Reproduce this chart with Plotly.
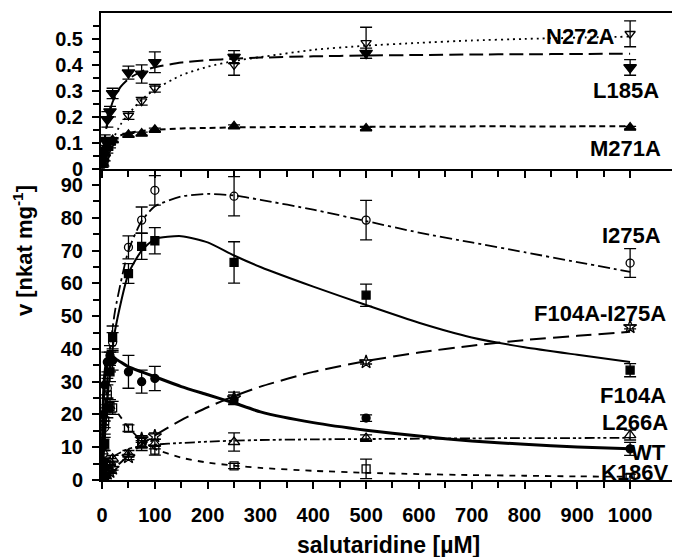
import plotly.graph_objects as go

# ---------------- data: top panel (v in nkat/mg) ----------------
x_top = [1, 2.5, 5, 10, 15, 20, 50, 75, 100, 250, 500, 1000]
n272a_v = [0.01, 0.02, 0.04, 0.07, 0.09, 0.11, 0.205, 0.26, 0.31, 0.40, 0.485, 0.52]
n272a_e = [0.005, 0.01, 0.01, 0.01, 0.01, 0.01, 0.015, 0.015, 0.015, 0.04, 0.06, 0.05]
l185a_v = [0.03, 0.07, 0.11, 0.19, 0.22, 0.29, 0.37, 0.365, 0.41, 0.43, 0.445, 0.39]
l185a_e = [0.01, 0.01, 0.02, 0.03, 0.02, 0.02, 0.025, 0.035, 0.04, 0.025, 0.02, 0.03]
m271a_v = [0.02, 0.04, 0.06, 0.08, 0.10, 0.11, 0.13, 0.135, 0.15, 0.163, 0.155, 0.158]
m271a_e = [0.005, 0.005, 0.005, 0.005, 0.005, 0.005, 0.006, 0.006, 0.006, 0.006, 0.005, 0.005]

# fitted curves (top)
xc_top = [0, 2.5, 5, 10, 20, 35, 50, 75, 100, 150, 200, 250, 300, 400, 500, 600, 700, 800, 900, 1000]
n272a_fit = [0, 0.017, 0.032, 0.061, 0.11, 0.17, 0.21, 0.266, 0.305, 0.36, 0.393, 0.415, 0.43, 0.458, 0.474, 0.485, 0.494, 0.5, 0.505, 0.509]
l185a_fit = [0, 0.064, 0.113, 0.18, 0.257, 0.315, 0.346, 0.375, 0.391, 0.409, 0.418, 0.424, 0.428, 0.433, 0.436, 0.438, 0.44, 0.441, 0.442, 0.443]
m271a_fit = [0, 0.033, 0.055, 0.083, 0.11, 0.128, 0.1375, 0.145, 0.15, 0.155, 0.157, 0.159, 0.16, 0.161, 0.162, 0.162, 0.163, 0.163, 0.163, 0.164]

# ---------------- data: bottom panel ----------------
x_bot = [1, 2.5, 5, 10, 15, 20, 50, 75, 100, 250, 500, 1000]
i275a_v = [3, 8, 16, 28, 36, 42, 71, 79.3, 88.4, 86.6, 79.3, 66.2]
i275a_e = [1, 1, 2, 3, 3, 3, 3.5, 4, 4.5, 6, 6, 4.4]
f104a_v = [2, 5, 11, 22, 33, 43.5, 63, 71.3, 73, 66.4, 56.4, 33.5]
f104a_e = [1, 1, 2, 3, 3, 3.5, 3, 4, 4, 6.3, 3.4, 2]
dbl_v = [0.2, 0.5, 1, 2, 2.5, 3.5, 7, 12.5, 13.4, 25, 36, 46.7]
dbl_e = [0.3, 0.3, 0.5, 0.5, 0.5, 0.5, 0.8, 1, 1, 1.8, 0.6, 0.6]
wt_v = [10, 20, 29, 36, 38, 36.5, 33, 30, 31, 24.5, 18.9, 9.5]
wt_e = [2, 2, 3, 3, 3, 3, 5, 3.5, 3.7, 1.5, 1, 2]
l266a_v = [1, 2, 3, 4.5, 5.5, 6.5, 8, 10.5, 11, 11.6, 12.8, 13.7]
l266a_e = [0.5, 0.5, 1, 1, 1, 1, 1, 1.5, 1.5, 2.8, 1, 1.5]
k186v_v = [5, 11, 18, 26, 22.5, 22, 15.8, 11.5, 9.1, 4.3, 3.4, 0.8]
k186v_e = [1, 1.5, 2, 3, 2, 2, 1, 1.5, 1.5, 0.8, 3, 1]

xc_bot = [0, 2, 5, 10, 15, 25, 50, 75, 100, 150, 200, 250, 300, 400, 500, 600, 700, 800, 900, 1000]
i275a_fit = [0, 8, 18, 31, 40, 52, 70, 79, 83.5, 86.5, 87.3, 86.8, 85.5, 82.5, 79, 75.5, 72.5, 69.5, 66.5, 63.5]
f104a_fit = [0, 5, 12, 24, 33, 46, 63, 70, 73.5, 74.4, 72.5, 68.5, 65, 59, 53.4, 48, 43.5, 40.5, 38.2, 36]
dbl_fit = [0, 0.3, 0.8, 1.5, 2.3, 3.8, 7.5, 10.8, 13.6, 18.3, 22.2, 25.6, 28.5, 33, 36.3, 38.9, 41, 42.7, 44, 45.2]
wt_fit = [0, 22, 32, 37, 37.5, 37, 34.5, 33, 31.5, 28.5, 26, 23.5, 20.8, 17.5, 15.2, 13.4, 11.9, 10.9, 10.1, 9.5]
l266a_fit = [0, 0.6, 2.5, 4.5, 5.8, 7.5, 9.5, 10.3, 10.8, 11.3, 11.7, 12, 12.2, 12.4, 12.5, 12.6, 12.7, 12.8, 12.8, 12.9]
k186v_fit = [0, 15, 22, 24, 23.5, 21.5, 16, 12, 9.5, 6.8, 5.3, 4.4, 3.7, 2.8, 2.2, 1.8, 1.5, 1.3, 1.1, 1.0]

x_ticks = [0, 100, 200, 300, 400, 500, 600, 700, 800, 900, 1000]
x_minor = [50, 150, 250, 350, 450, 550, 650, 750, 850, 950]
top_ticks = [0, 0.1, 0.2, 0.3, 0.4, 0.5]
top_minor = [0.05, 0.15, 0.25, 0.35, 0.45, 0.55]
bot_ticks = [0, 10, 20, 30, 40, 50, 60, 70, 80, 90]
bot_minor = [5, 15, 25, 35, 45, 55, 65, 75, 85]

FONT = "Liberation Sans, Arial, sans-serif"

fig = go.Figure()


def add_series(xp, yp, ep, xc, yc, symbol, dash, lw, yaxis, xaxis, msize=9):
    fig.add_trace(go.Scatter(x=xc, y=yc, mode="lines", line=dict(color="black", width=lw, dash=dash, shape="spline", smoothing=0.6),
                             xaxis=xaxis, yaxis=yaxis, showlegend=False, hoverinfo="skip"))
    fig.add_trace(go.Scatter(x=xp, y=yp, mode="markers",
                             marker=dict(symbol=symbol, size=msize, color="black", line=dict(color="black", width=1.3)),
                             error_y=dict(type="data", array=ep, color="black", thickness=1.3, width=6),
                             xaxis=xaxis, yaxis=yaxis, showlegend=False))


# top panel
add_series(x_top, n272a_v, n272a_e, xc_top, n272a_fit, "triangle-down-open", "2px,4px", 1.8, "y2", "x2")
add_series(x_top, l185a_v, l185a_e, xc_top, l185a_fit, "triangle-down", "14px,6px", 2, "y2", "x2", 11)
add_series(x_top, m271a_v, m271a_e, xc_top, m271a_fit, "triangle-up", "6px,4px", 2, "y2", "x2", 10)

# bottom panel
add_series(x_bot, i275a_v, i275a_e, xc_bot, i275a_fit, "circle-open", "12px,4px,3px,4px", 1.8, "y", "x", 8)
add_series(x_bot, f104a_v, f104a_e, xc_bot, f104a_fit, "square", "solid", 2, "y", "x", 8)
add_series(x_bot, dbl_v, dbl_e, xc_bot, dbl_fit, "star-open", "16px,7px", 2, "y", "x", 10)
add_series(x_bot, wt_v, wt_e, xc_bot, wt_fit, "circle", "solid", 3, "y", "x", 8)
add_series(x_bot, l266a_v, l266a_e, xc_bot, l266a_fit, "triangle-up-open", "10px,3px,3px,3px,3px,3px", 1.8, "y", "x", 10)
add_series(x_bot, k186v_v, k186v_e, xc_bot, k186v_fit, "square-open", "6px,6px", 1.8, "y", "x", 8)

labels_top = [("N272A", 975, 0.51), ("L185A", 1058, 0.30), ("M271A", 1062, 0.077)]
labels_bot = [("I275A", 1062, 74.7), ("F104A-I275A", 1072, 50.9), ("F104A", 1072, 25.9),
              ("L266A", 1075, 17.4), ("WT", 1072, 8.5), ("K186V", 1077, 2.4)]
for t, xx, yy in labels_top:
    fig.add_annotation(x=xx, y=yy, xref="x2", yref="y2", text="<b>%s</b>" % t, showarrow=False,
                       xanchor="right", yanchor="middle", font=dict(family=FONT, size=22, color="black"))
for t, xx, yy in labels_bot:
    fig.add_annotation(x=xx, y=yy, xref="x", yref="y", text="<b>%s</b>" % t, showarrow=False,
                       xanchor="right", yanchor="middle", font=dict(family=FONT, size=22, color="black"))

fig.add_annotation(x=-0.137, y=0.491, xref="paper", yref="paper", text="<b>v [nkat mg<sup>-1</sup>]</b>",
                   showarrow=False, textangle=-90, xanchor="center", yanchor="middle",
                   font=dict(family=FONT, size=22, color="black"))
fig.add_annotation(x=0.5, y=-0.139, xref="paper", yref="paper", text="<b>salutaridine [µM]</b>",
                   showarrow=False, xanchor="center", yanchor="middle",
                   font=dict(family=FONT, size=23, color="black"))

tickfont = dict(family=FONT, size=20, color="black")
axis_common = dict(showgrid=False, zeroline=False, showline=True, linecolor="black", linewidth=2,
                   ticks="outside", ticklen=7, tickwidth=1.5, tickcolor="black")
split = (480 - 168) / 468

# page body has an 8px margin: figure is 672x549 placed at (8, 8)
fig.update_layout(
    width=672, height=549, margin=dict(l=93, r=3, t=4, b=77),
    paper_bgcolor="white", plot_bgcolor="white", showlegend=False,
    font=dict(family=FONT, color="black"),
    xaxis=dict(domain=[0, 1], range=[-2, 1085], anchor="y", tickmode="array", tickvals=x_ticks,
               ticktext=["<b>%d</b>" % v for v in x_ticks], tickfont=tickfont, ticklabelstandoff=9,
               minor=dict(tickmode="array", tickvals=x_minor, ticklen=6, tickwidth=1.5, tickcolor="black", ticks="outside"),
               **axis_common),
    yaxis=dict(domain=[0, split], range=[0, 95], anchor="x", tickmode="array", tickvals=bot_ticks,
               ticktext=["<b>%d</b>" % v for v in bot_ticks], tickfont=tickfont, mirror=True, ticklabelstandoff=5,
               minor=dict(tickmode="array", tickvals=bot_minor, ticklen=6, tickwidth=1.5, tickcolor="black", ticks="outside"),
               **axis_common),
    xaxis2=dict(domain=[0, 1], range=[-2, 1085], anchor="y2", matches="x", tickmode="array", tickvals=x_ticks,
                showticklabels=False, mirror=True,
                minor=dict(tickmode="array", tickvals=x_minor, ticklen=6, tickwidth=1.5, tickcolor="black", ticks="outside"),
                **axis_common),
    yaxis2=dict(domain=[split, 1], range=[0, 0.6], anchor="x2", tickmode="array", tickvals=top_ticks,
                ticktext=["<b>%s</b>" % ("0" if v == 0 else ("%.1f" % v)) for v in top_ticks], tickfont=tickfont,
                mirror=True, ticklabelstandoff=5,
                minor=dict(tickmode="array", tickvals=top_minor, ticklen=6, tickwidth=1.5, tickcolor="black", ticks="outside"),
                **axis_common),
)

fig.write_html("out.html")
